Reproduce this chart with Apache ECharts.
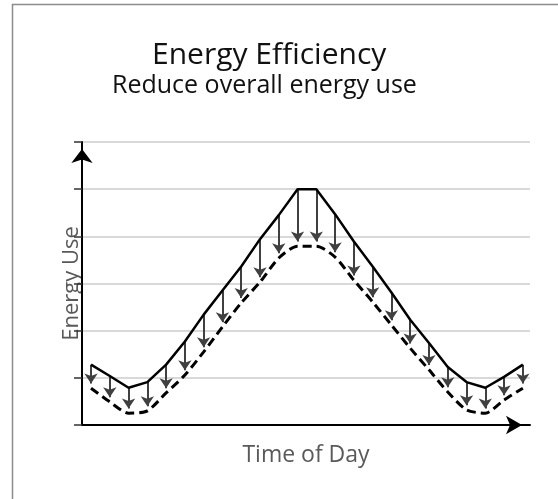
<!DOCTYPE html>
<html>
<head>
<meta charset="utf-8">
<script src="https://cdn.jsdelivr.net/npm/echarts@6/dist/echarts.min.js"></script>
<style>
  html, body { margin: 0; padding: 0; background: #fff; }
  #main { width: 558px; height: 499px; }
</style>
</head>
<body>
<div id="main"></div>
<script>
// hour of day (x)
var hours = [0, 1, 2, 3, 4, 5, 6, 7, 8, 9, 10, 11, 12, 13, 14, 15, 16, 17, 18, 19, 20, 21, 22, 23];
// current energy use (solid line)
var before = [1.28, 1.04, 0.79, 0.91, 1.28, 1.77, 2.34, 2.85, 3.36, 3.94, 4.45, 5.0,
              5.0, 4.47, 3.89, 3.36, 2.81, 2.23, 1.74, 1.23, 0.91, 0.79, 1.02, 1.28];
// reduced energy use (dashed line)
var after = [0.78, 0.49, 0.25, 0.3, 0.68, 1.06, 1.55, 2.08, 2.59, 3.03, 3.54, 3.79,
             3.79, 3.56, 3.07, 2.61, 2.12, 1.63, 1.17, 0.7, 0.32, 0.25, 0.53, 0.78];
var yTicks = [0, 1, 2, 3, 4, 5, 6];

var font = '"Open Sans", Lato, sans-serif';

function pairs(vals) {
    return hours.map(function (h, i) { return [h, vals[i]]; });
}

var arrows = hours.map(function (h, i) {
    return { coords: [[h, before[i]], [h, after[i] + 0.1]] };
});

var chart = echarts.init(document.getElementById('main'));
var option = {
    backgroundColor: '#fff',
    animation: false,
    title: [
        {
            text: 'Energy Efficiency',
            left: 152, top: 40, padding: 0,
            textStyle: { fontFamily: font, fontSize: 30, fontWeight: 'normal', color: '#111' }
        },
        {
            text: 'Reduce overall energy use',
            left: 112, top: 73, padding: 0,
            textStyle: { fontFamily: font, fontSize: 25, fontWeight: 'normal', color: '#111' }
        }
    ],
    graphic: [{
        type: 'rect',
        shape: { x: 12.5, y: 4.5, width: 700, height: 700 },
        style: { fill: 'none', stroke: '#8c8c8c', lineWidth: 1.5 },
        silent: true
    }],
    grid: { left: 82, right: 28, top: 142, bottom: 74 },
    xAxis: {
        type: 'value',
        min: -0.48, max: 23.38,
        name: 'Time of Day',
        nameLocation: 'middle',
        nameGap: 19,
        nameTextStyle: { fontFamily: font, fontSize: 23, color: '#595959' },
        axisLine: {
            show: true,
            onZero: false,
            lineStyle: { color: '#000', width: 2 },
            symbol: ['none', 'arrow'],
            symbolSize: [14, 16],
            symbolOffset: [0, -8]
        },
        axisTick: { show: false },
        axisLabel: { show: false },
        splitLine: { show: false }
    },
    yAxis: {
        type: 'value',
        min: yTicks[0], max: yTicks[yTicks.length - 1], interval: 1,
        name: 'Energy Use',
        nameLocation: 'middle',
        nameGap: -1,
        nameTextStyle: { fontFamily: font, fontSize: 22, color: '#595959' },
        axisLine: {
            show: true,
            onZero: false,
            lineStyle: { color: '#000', width: 2 },
            symbol: ['none', 'arrow'],
            symbolSize: [16, 14],
            symbolOffset: [0, -7]
        },
        axisTick: { show: true, length: 8, lineStyle: { color: '#333', width: 1.5 } },
        axisLabel: { show: false },
        splitLine: { show: true, lineStyle: { color: '#d9d9d9', width: 2 } }
    },
    series: [
        {
            type: 'lines',
            coordinateSystem: 'cartesian2d',
            data: arrows,
            symbol: ['none', 'arrow'],
            symbolSize: 10,
            lineStyle: { color: '#404040', width: 2, opacity: 1 },
            silent: true,
            z: 1
        },
        {
            type: 'line',
            data: pairs(after),
            smooth: 0.25,
            showSymbol: false,
            lineStyle: { color: '#000', width: 3, type: [9, 5] },
            z: 2
        },
        {
            type: 'line',
            data: pairs(before),
            showSymbol: false,
            lineStyle: { color: '#000', width: 2.5 },
            z: 3
        }
    ]
};
chart.setOption(option);
</script>
</body>
</html>
